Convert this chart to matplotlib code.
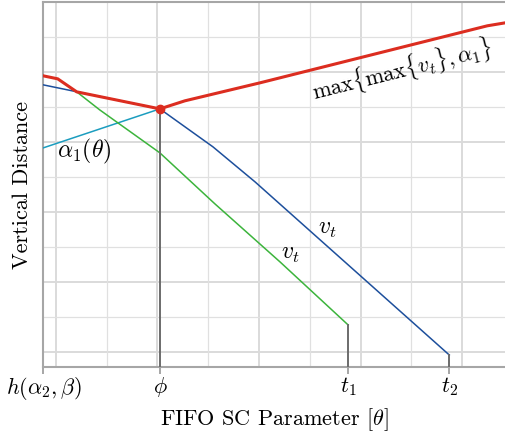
import matplotlib
matplotlib.use('Agg')
import matplotlib.pyplot as plt

# Aesthetic parameters (LaTeX look)
plt.rcParams['font.family'] = 'serif'
plt.rcParams['font.serif'] = ['cmr10']
plt.rcParams['mathtext.fontset'] = 'cm'
plt.rcParams['axes.unicode_minus'] = False
plt.rcParams['axes.formatter.use_mathtext'] = True

# ======================
# DATA
# ======================
# x ticks
tick_pos = [-0.12, 1.025, 2.877, 3.872]
tick_labels = [r'$h(\alpha_2,\beta)$', r'$\phi$', r'$t_1$', r'$t_2$']

# max{max{v_t}, alpha_1}
red_x = [-0.123, 0.02, 0.207, 1.025, 1.271, 2.01, 4.246, 4.424]
red_y = [3.943, 3.90, 3.714, 3.471, 3.586, 3.843, 4.657, 4.70]

# v_t (ends at t2)
blue_x = [-0.123, 1.025, 1.547, 1.961, 3.872]
blue_y = [3.814, 3.471, 2.929, 2.429, -0.043]

# v_t (ends at t1)
green_x = [0.207, 0.433, 1.025, 1.567, 2.207, 2.877]
green_y = [3.714, 3.457, 2.843, 2.114, 1.286, 0.386]

# alpha_1(theta)
teal_x = [-0.123, 1.025]
teal_y = [2.914, 3.471]

# point at phi
phi_pt = (1.025, 3.471)

# vertical markers: (x, top y)
vlines_x = [1.025, 2.877, 3.872]
vlines_top = [3.471, 0.386, -0.043]

# ======================
# FIGURE
# ======================
fig = plt.figure(figsize=(5.05, 4.36), dpi=100)
ax = fig.add_axes([0.0861, 0.1583, 0.9139, 0.836])
xmin, xmax = -0.12, 4.42
ymin, ymax = -0.214, 4.99
ax.set_xlim(xmin, xmax)
ax.set_ylim(ymin, ymax)

# grid
for g in [0, 1, 2, 3, 4]:
    ax.axvline(g, color='#dadada', lw=1.4, zorder=0)
    ax.axhline(g, color='#dadada', lw=1.4, zorder=0)
for g in [0.5, 1.5, 2.5, 3.5]:
    ax.axvline(g, color='#e0e0e0', lw=0.9, zorder=0)
for g in [0.5, 1.5, 2.5, 3.5, 4.5]:
    ax.axhline(g, color='#e0e0e0', lw=0.9, zorder=0)

# lines
ax.plot(teal_x, teal_y, color='#1b9dbf', lw=1.1, zorder=3)
ax.plot(green_x, green_y, color='#3cb43c', lw=1.1, zorder=3)
ax.plot(blue_x, blue_y, color='#1d4f9c', lw=1.1, zorder=3)
ax.plot(red_x, red_y, color='#dc2d20', lw=2.2, zorder=4, solid_joinstyle='miter')
for vx, vt in zip(vlines_x, vlines_top):
    ax.plot([vx, vx], [vt, ymin], color='#6b6b6b', lw=1.4, zorder=3)
ax.plot([phi_pt[0]], [phi_pt[1]], 'o', color='#dc2d20', ms=6, zorder=5)

# annotations
ax.text(0.01, 2.857, r'$\alpha_1(\theta)$', fontsize=17, ha='left', va='center')
ax.text(2.67, 1.757, r'$v_t$', fontsize=17, ha='center', va='center')
ax.text(2.305, 1.40, r'$v_t$', fontsize=17, ha='center', va='center')
ax.text(3.409, 4.03, r'$\max\{\max\{v_t\},\alpha_1\}$', fontsize=16,
        ha='center', va='center', rotation=14, rotation_mode='anchor')

# axes styling
for s in ['left', 'bottom', 'top']:
    ax.spines[s].set_color('#a6a6a6')
    ax.spines[s].set_linewidth(1.5)
ax.spines['right'].set_visible(False)
ax.set_xticks(tick_pos)
ax.set_xticklabels(tick_labels, fontsize=16)
ax.set_yticks([])
ax.tick_params(axis='x', direction='out', length=5, width=1.4, color='#a6a6a6', pad=1)
for t in ax.xaxis.get_major_ticks()[1:]:
    t.tick1line.set_color('#6b6b6b')
ax.set_xlabel(r'FIFO SC Parameter $[\theta]$', fontsize=16, labelpad=3)
ax.set_ylabel('Vertical Distance', fontsize=16, labelpad=8)

plt.savefig('out.png', dpi=100)
